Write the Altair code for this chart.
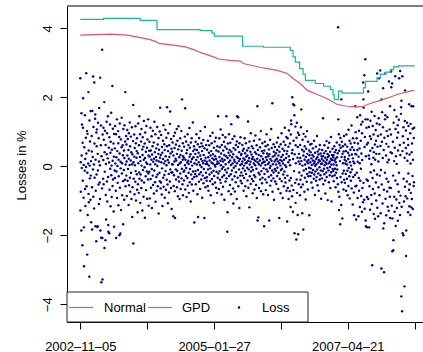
import altair as alt
import pandas as pd

# ---- daily losses in % (roughly 50 trading days per row) ----
losses = [
    2.55, -1.28, 0.12, -0.74, -1.86, 1.54, 0.31, -0.05, 1.21, -2.29, 0.68, -0.42, 1.12, 1.97, -0.91, 0.04, -1.77, -2.9, 0.55, -0.13, 1.48, -0.66, 0.21, -1.15, 0.83, -0.02, 2.70, 0.37, -0.58, 1.02, -2.56, -0.19, 0.94, -1.41, 0.08, 2.15, -0.8, 0.46, -1.04, -3.2, 1.33, 0.02, -0.35, 0.72, -0.97, 1.6, -0.27, 0.15, -1.62, 0.88,
    0.43, -0.61, -1.83, 1.6, 0.27, -0.09, 2.60, -0.88, 1.14, 0.05, -1.22, 2.43, 0.66, -0.33, 1.38, 1.5, -1.74, 0.19, -0.71, -2.17, 0.98, -0.24, 0.58, 1.07, -1.76, -1.74, 0.36, -0.12, 1.26, -0.53, 0.81, -1.09, 0.14, 1.69, -0.47, 0.03, -0.95, 2.57, -1.86, 0.61, 1.18, -2.07, -3.36, 0.29, -0.64, 3.38, -2.08, -3.28, 0.92, -0.36,
    0.18, 1.12, -0.52, 0.77, 1.86, -2.37, 0.41, -0.16, 1.03, -2.14, 0.62, -0.83, 0.07, -1.54, 1.29, 0.35, -0.44, 0.96, -1.02, 0.23, 1.45, -0.31, -1.7, -1.9, 0.54, 0.11, -1.94, 0.84, -0.68, 1.21, -0.07, 0.39, -1.16, 0.71, 1.55, -0.26, 0.02, -0.89, 0.48, 2.33, -0.57, 0.16, 1.09, -0.38, 0.66, -1.31, 0.28, 0.94, -1.75, -0.12,
    0.52, -0.34, 1.17, 0.08, -0.71, 0.93, -2.08, 0.26, -0.15, 1.36, -0.92, 0.44, 0.01, -0.48, 1.02, 0.67, -1.13, 0.19, -0.29, 0.85, -2.0, 0.37, 1.24, -0.62, -1.95, 0.13, -0.06, 0.78, -1.27, 0.55, 1.41, -0.21, 0.09, -0.84, 0.61, 0.32, -0.43, -1.68, 1.08, -0.11, 0.46, -0.97, 0.24, 1.19, -0.39, 0.72, 2.15, -0.58, 0.05, 0.88,
    -0.27, 0.63, 0.14, -0.86, 1.05, 0.31, -0.42, 0.79, -0.08, 0.47, -1.12, 0.22, 0.96, -0.55, 0.04, 1.27, -0.33, 0.58, -0.74, 0.17, 0.86, -0.19, 0.41, -0.95, 1.13, 0.06, -1.47, 0.35, -0.61, 0.73, 1.78, -2.24, 0.12, -0.36, 0.92, 0.28, -0.81, 0.53, 0.03, -0.45, 1.16, -0.14, 0.67, -0.99, 0.25, 0.44, -0.23, 0.81, -0.68, -1.33,
    0.38, -0.52, 1.24, 0.09, -0.77, 0.61, -0.18, 1.45, -0.36, 0.27, 0.93, -1.06, 0.15, -0.24, 0.72, -0.63, 1.08, 0.02, -0.41, 0.49, -1.28, 0.33, 0.84, -0.11, 0.57, -0.88, 0.19, 1.31, -0.47, -0.03, 0.66, -1.49, 0.24, 0.98, -0.29, 0.42, -0.69, 0.11, 1.17, -0.15, 0.54, -0.94, 0.07, 0.78, -0.38, 1.36, -0.21, 0.31, -1.14, 0.45,
    -0.16, 0.71, 0.28, -0.93, 0.05, 1.12, -0.37, 0.46, -0.62, 0.19, 0.87, -0.08, -1.21, 0.34, 0.58, -0.27, 1.03, -0.54, 0.13, 0.69, -0.79, 0.22, -0.12, 1.29, 0.41, -0.46, 0.06, 0.93, -1.03, 0.27, 0.52, -0.31, 0.17, -0.71, 1.14, 0.01, -0.24, 0.63, -0.58, 0.36, 0.82, -1.37, 0.14, 0.48, -0.19, 1.01, -0.43, 0.25, 1.70, -0.64,
    0.33, -0.47, 0.91, 0.12, -0.82, 0.56, -0.06, 0.39, -1.15, 0.74, 0.21, -0.33, 1.19, -0.59, 0.08, 0.64, -0.25, 0.47, -0.91, 0.15, 1.06, -0.14, 0.29, -0.68, 0.83, 0.03, -0.39, 0.58, 1.71, -0.53, 0.18, -1.07, 0.44, 0.96, -0.22, 0.11, -0.76, 0.61, 0.27, -0.44, 1.23, 1.59, -0.09, 0.37, -0.63, 0.79, -0.18, 0.51, -1.24, 0.06,
    0.42, -0.18, 0.69, 0.05, -1.45, 0.31, -0.57, 0.88, -0.26, 0.14, 0.53, -0.72, 0.97, -1.5, 0.22, -0.09, 0.63, -0.38, 0.17, 1.08, -0.61, 0.36, -0.13, 0.74, -0.87, 0.04, 0.49, -0.31, 1.16, -0.44, 0.26, 0.59, -0.95, 0.08, 0.81, -0.21, 0.33, -0.66, 0.12, 1.02, -0.35, 0.45, -0.07, 1.94, -0.52, 0.19, 0.67, -0.84, 0.29, -0.16,
    0.24, -0.41, 0.57, -0.12, 0.86, 0.03, 1.68, -0.67, 0.19, -0.28, 0.72, -0.05, 0.38, -0.89, 0.47, 0.11, -0.34, 0.93, -0.56, 0.16, 0.62, -0.19, 0.07, -0.77, 1.11, 0.28, -0.46, 0.54, -0.08, 0.35, -1.02, 0.69, 0.13, -0.24, 0.81, -0.53, 0.21, 0.02, -0.37, 1.27, -0.15, 0.44, -0.71, 0.26, 0.58, -0.31, -1.63, 0.09, 0.49, -0.22,
    0.36, -0.14, 0.71, -0.52, 0.18, 0.93, -0.29, 0.05, 0.47, -0.81, 0.27, 0.64, -0.11, -1.47, 0.39, 0.12, -0.45, 0.82, -0.23, 0.56, 0.04, -0.66, 0.31, 1.02, -0.17, 0.21, -0.38, 0.67, -0.02, 0.44, -0.91, 0.15, 0.58, -0.27, 0.09, 0.76, -0.49, 0.33, -0.08, -1.5, 0.52, 0.17, -0.34, 1.14, -0.61, 0.25, 0.07, -0.19, 0.62, -0.42,
    0.13, -0.32, 0.48, 0.06, -0.57, 0.74, -0.09, 0.26, -0.71, 0.39, 0.02, 0.61, -0.24, 0.17, -0.43, 0.88, -0.06, 0.31, -0.84, 0.44, 0.11, -0.18, 0.67, -0.37, 0.23, 0.97, -0.52, 0.08, 0.35, -0.13, -1.06, 0.54, 0.19, -0.28, 0.72, 0.04, -0.47, 0.29, -0.01, 0.83, -0.62, 0.21, 0.46, -0.16, 0.07, -0.77, 0.58, 0.14, -0.33, 1.45,
    -0.21, 0.43, 0.09, -0.66, 0.81, 0.27, -0.14, 0.55, -0.39, 0.16, 1.07, -0.48, 0.03, 0.37, -0.82, 0.62, -0.07, 0.22, -0.31, 0.91, 0.14, -0.59, 0.46, -0.02, 0.71, -0.26, 0.33, -0.97, 0.18, 0.57, -0.11, 0.84, -0.44, 0.06, 0.29, 1.45, -0.35, 0.51, -0.18, -1.9, -1.33, 0.24, 0.66, -0.06, 0.39, -0.72, 0.12, 0.93, -0.28, 0.47,
    0.31, -0.54, 0.17, 0.68, -0.23, 0.04, -0.81, 1.22, 0.42, -0.12, 0.26, -0.38, 0.79, 0.08, -0.64, 0.35, -1.08, 0.53, -0.04, 0.19, 0.87, -0.29, 0.13, -0.73, 0.48, 0.01, -0.46, 0.62, -0.17, 0.28, -0.95, 0.72, 0.09, 1.45, -0.33, 0.24, 0.56, 1.42, -0.58, 0.15, -0.09, 0.41, -1.21, 0.67, 0.21, -0.27, 0.04, 0.84, -0.42, 0.33,
    -0.18, 0.36, 0.07, -0.49, 0.62, 0.14, -0.27, 0.45, -0.06, 0.23, -0.71, 0.51, 0.02, -0.34, 0.81, 0.19, -0.13, 0.38, -0.58, 0.09, 0.67, -0.22, 0.28, -0.87, 0.11, 0.46, -0.04, 0.31, -0.41, 1.30, 0.16, -0.62, 0.53, -0.09, 0.24, -1.19, 0.72, 0.05, -0.29, 0.42, 0.13, -0.51, 0.96, -0.15, 0.34, -0.03, 0.58, -0.37, 0.21, -0.78,
    0.27, -0.11, 0.52, -0.43, 0.08, 0.74, -0.26, 0.19, -0.67, 0.41, 0.03, -0.31, 0.89, 0.15, -0.54, 0.36, -0.07, 0.61, -0.92, 0.22, 1.74, -1.57, 0.12, 0.47, -1.48, -0.19, 0.33, 0.06, -0.63, 0.78, -0.24, 0.17, 0.55, -0.38, 0.02, 1.02, -0.72, 0.29, -0.14, 0.44, -0.49, 0.09, 0.67, -0.33, 0.21, -0.81, 0.38, 0.13, -0.06, -1.74,
    0.46, -0.22, 0.13, 0.71, -0.38, 0.04, 0.58, -0.69, 0.26, -0.09, 0.93, -0.47, 0.18, 0.37, -0.15, 0.62, -0.83, 0.07, 0.29, -0.31, 0.49, 0.11, -1.57, 0.35, -0.05, 0.77, -0.56, 0.21, 0.01, -0.26, 1.08, -0.42, 0.16, 0.53, -0.12, 1.83, -0.74, 0.28, 0.06, -0.35, 0.64, -0.18, 0.42, -0.97, 0.14, 0.31, -0.08, 0.56, -0.44, 0.19,
    -0.13, 0.38, 0.05, -0.51, 0.69, 0.22, -0.28, 0.47, -0.04, 0.14, 0.83, -0.66, 0.31, -0.19, 0.57, -1.5, 0.09, 0.42, -0.36, 0.18, 0.02, -0.78, 0.64, -0.11, 0.27, 0.96, -0.43, 0.15, -0.07, 0.51, -0.92, 0.33, 0.08, -0.24, 0.71, -0.58, 0.19, 0.45, -0.15, 1.12, -0.34, 0.03, 0.62, -0.47, 0.24, -0.02, 0.85, -0.71, 0.36, -1.6,
    0.44, -0.27, 0.81, -0.63, 0.12, 0.57, -0.95, 0.29, 1.04, -0.41, 0.18, -0.72, 0.66, 0.03, -1.18, 0.92, -0.34, 1.33, 1.22, -0.56, 0.38, -0.87, 2.0, 0.47, -1.32, 0.21, 1.8, -0.69, 0.74, -0.14, 1.77, 1.48, -1.94, 0.35, -0.48, 1.15, -1.06, 0.61, 0.09, -2.12, 0.83, -0.38, 1.26, -0.77, 0.25, -1.41, 0.56, 0.97, -1.97, 0.14,
    -0.52, 0.36, 0.91, -0.18, 0.07, -0.84, 0.62, 0.24, -0.39, 1.13, -0.61, 1.65, 0.15, -0.27, 0.48, -1.36, 0.02, 0.77, -0.53, -1.83, 0.31, 0.94, -0.12, 0.43, -0.74, 0.19, 0.58, -0.33, 0.05, 0.86, -0.96, 0.27, -0.08, 0.51, -0.45, 0.14, 1.02, -0.22, 0.36, -0.67, 0.09, 0.71, -0.29, 0.18, -0.04, 0.46, -1.42, 0.32, -0.17, 0.63,
    0.12, -0.28, 0.41, -0.06, 0.23, -0.47, 0.65, 0.04, -0.19, 0.33, -0.62, 0.17, 0.52, -0.11, 0.28, -0.36, 0.08, 0.74, -0.24, 0.14, -0.83, 0.39, 0.01, -0.15, 0.57, -0.42, 0.21, 0.06, -0.31, 0.88, -0.09, 0.26, -0.55, 0.43, 0.11, -0.21, 0.34, -0.71, 0.18, 0.49, -0.03, -0.38, 0.62, 0.15, -0.26, 0.37, -0.12, 0.07, -0.94, 0.29,
    0.21, -0.35, 0.08, 0.47, -0.14, 0.29, 1.39, -0.52, 0.16, -0.07, 0.38, -0.23, 0.61, 0.03, -0.41, 0.25, -0.79, 0.12, 0.44, -0.18, 0.07, 0.73, -0.31, 0.19, -0.05, 0.36, -0.98, 0.27, 0.54, -0.12, 0.09, -0.46, 0.31, 0.68, -0.26, 0.14, -0.02, 0.42, -0.63, 0.22, 0.85, -0.17, 0.05, -1.02, 0.33, 0.18, -0.29, 0.51, -0.08, 0.26,
    -0.14, 0.32, 0.05, -0.43, 0.58, 0.17, -0.26, 0.41, -0.07, 0.22, -0.61, 0.12, 0.47, -0.19, 0.03, 0.69, -0.34, 0.26, -0.09, 0.38, -0.52, 4.03, 1.36, -0.74, 0.93, -1.27, 0.45, -0.88, 0.62, 0.15, -1.68, 0.82, -0.31, 0.54, -1.12, 1.94, 0.27, -0.46, 0.71, -1.51, 0.36, -0.21, 0.58, 0.09, -0.67, 0.43, -0.13, 0.88, -0.39, 0.19,
    0.27, -0.48, 0.63, 0.08, -0.22, 0.44, -0.71, 0.15, 0.92, -0.36, 0.05, 0.57, -0.13, -0.84, 0.39, 0.21, -0.57, 1.06, -0.05, 0.31, -0.29, 0.74, -0.93, 0.12, 0.48, -0.17, 0.66, -0.42, 0.02, 1.18, -0.64, 0.34, -0.09, 0.55, -1.11, 0.23, 0.81, -0.31, 0.14, -0.76, 0.47, -1.42, 0.09, 0.68, -0.25, 1.74, 0.36, -0.58, 0.99, -1.54,
    0.34, -0.56, 0.81, -0.19, 1.42, 0.47, -0.92, 0.13, 0.66, -1.45, 0.28, -0.34, 1.03, -0.71, 0.52, 0.09, -1.18, 1.48, -0.42, 0.74, -0.07, 1.21, -0.86, 0.37, -1.32, 0.96, 0.18, -0.63, 1.29, -1.04, 2.43, 1.94, -0.48, 1.7, -0.97, 2.64, 0.56, -1.23, 0.85, 3.10, 1.36, -1.57, 0.29, -1.74, 1.12, -0.38, 0.63, -0.89, -1.77, 1.36,
    -0.42, 0.68, 2.17, -0.95, 0.31, 1.14, -1.77, 0.22, -0.58, 0.87, -1.26, 0.45, 1.32, -0.17, 0.79, -0.83, 0.06, 1.58, -1.09, -2.87, 0.53, -0.34, 1.17, -0.66, 0.25, 0.92, -1.38, 0.41, -0.12, 1.46, -0.79, 0.63, -1.52, 0.19, 1.05, -0.47, 0.74, -0.99, 0.36, 1.24, -0.24, 2.69, -1.2, 0.57, 0.88, -1.45, 0.14, -0.61, 1.39, 2.55,
    0.36, -0.84, 1.21, -0.27, 2.78, 0.59, -1.36, 0.92, -0.11, -2.96, 1.94, -0.53, 0.71, 1.57, -1.08, 0.24, 1.13, 2.26, -1.8, 0.47, -0.68, -3.07, -1.65, 0.83, -0.19, 1.36, 2.69, 1.48, -0.94, 0.31, -1.42, 0.65, -0.36, 1.02, -0.73, 1.42, 0.12, -1.17, 0.88, -0.45, 0.57, -1.29, 0.19, 2.46, -0.62, 1.07, -0.88, 1.74, -1.5, 0.41,
    -0.63, 0.92, 2.75, 2.29, -1.14, 0.38, 2.4, -2.46, -1.51, 0.71, -0.27, -2.43, -2.14, 1.26, 0.15, -0.88, 1.63, -1.32, 0.54, 2.61, -0.41, 1.08, -1.73, 0.29, -0.96, 1.44, 0.07, -1.21, 0.83, -0.52, 1.19, -1.58, 0.46, 0.98, -0.74, 1.35, -0.19, 2.55, -1.06, 0.62, -1.41, 2.76, 0.33, -0.85, 1.52, 1.71, -3.77, 1.9, -1.17, -4.2,
    2.61, 0.44, -1.94, 0.87, -2.0, 1.13, -0.36, 0.68, -1.02, -3.48, 0.25, 1.31, -0.59, 2.2, -0.87, 0.53, 1.04, -2.6, -1.86, 0.37, -0.44, 1.26, -0.93, 0.16, 0.79, -1.33, 0.62, -0.21, 1.17, -0.68, 1.8, -1.16, 0.34, -0.52, 0.96, -1.41, 0.08, 1.23, -0.77, -1.19, 1.74, 0.41, -0.95, 0.66, -0.28, 1.09, -1.24, 0.19, 1.74, -0.57,
    0.82, -0.46, 1.12,
]
first_day = "2002-11-05"

# ---- Normal VaR estimate ----
normal_dates = ["2002-11-05", "2003-05-07", "2003-08-16", "2003-11-05", "2004-01-05", "2004-02-15",
                "2004-02-25", "2004-05-26", "2004-08-05", "2004-09-25", "2004-11-04", "2005-01-24",
                "2005-02-24", "2005-05-06", "2005-07-06", "2005-07-24", "2005-11-23", "2006-02-16",
                "2006-04-18", "2006-05-25", "2006-07-06", "2006-08-18", "2006-10-18", "2006-12-18",
                "2007-02-16", "2007-04-18", "2007-06-18", "2007-07-25", "2007-09-05", "2007-11-05",
                "2008-01-05", "2008-03-06", "2008-05-06", "2008-05-30"]
normal_var = [3.80, 3.83, 3.80, 3.73, 3.67, 3.60, 3.56, 3.51, 3.46, 3.38, 3.30, 3.17,
              3.11, 3.07, 3.05, 2.98, 2.85, 2.78, 2.69, 2.54, 2.40, 2.20, 2.08, 1.96,
              1.79, 1.74, 1.72, 1.74, 1.82, 1.91, 2.01, 2.11, 2.18, 2.20]

# ---- GPD VaR estimate (step function) ----
gpd_dates = ["2002-11-05", "2003-03-27", "2003-11-05", "2004-02-15", "2004-11-04", "2005-01-15",
             "2005-01-29", "2005-07-20", "2005-11-23", "2006-05-06", "2006-05-23", "2006-06-06",
             "2006-07-02", "2006-07-23", "2006-08-06", "2006-10-05", "2006-11-25", "2007-01-05",
             "2007-01-21", "2007-01-29", "2007-02-24", "2007-03-17", "2007-07-26", "2007-08-06",
             "2007-10-16", "2007-11-05", "2007-12-06", "2008-01-05", "2008-01-25", "2008-02-25",
             "2008-06-01"]
gpd_var = [4.26, 4.29, 4.23, 3.96, 3.93, 3.86, 3.77, 3.48, 3.45, 3.36, 3.17, 3.02,
           2.83, 2.67, 2.49, 2.40, 2.32, 2.22, 2.08, 1.93, 2.18, 2.12, 2.28, 2.46,
           2.57, 2.67, 2.73, 2.80, 2.88, 2.91, 2.91]

tick_dates = ["2002-11-05", "2003-12-17", "2005-01-27", "2006-03-10", "2007-04-21", "2008-06-01"]
shown_tick_labels = ["2002-11-05", "2005-01-27", "2007-04-21"]
y_ticks = [-4, -2, 0, 2, 4]
legend_labels = ["Normal", "GPD", "Loss"]

RED = "#E0536B"
GREEN = "#1DB594"
BLUE = "#00008B"
FONT = "Liberation Sans"
W, H = 356, 316


def dt(s):
    y, m, d = (int(p) for p in s.split("-"))
    return alt.DateTime(year=y, month=m, date=d, utc=True)


loss_df = pd.DataFrame({
    "date": pd.bdate_range(first_day, periods=len(losses)).strftime("%Y-%m-%d"),
    "loss": losses,
})
normal_df = pd.DataFrame({"date": normal_dates, "var": normal_var})
gpd_df = pd.DataFrame({"date": gpd_dates, "var": gpd_var})

xscale = alt.Scale(type="utc", domain=[dt("2002-08-16"), dt("2008-07-22")])
yscale = alt.Scale(domain=[-4.513, 4.646], nice=False, zero=False)

shown = ",".join("'" + s + "'" for s in shown_tick_labels)
xaxis = alt.Axis(
    values=[dt(s) for s in tick_dates],
    labelExpr=f"indexof([{shown}], utcFormat(datum.value, '%Y-%m-%d')) >= 0 ? utcFormat(datum.value, '%Y\u2013%m\u2013%d') : ''",
    title=None, grid=False, tickSize=7, labelPadding=21, labelBaseline="alphabetic",
    labelAlign="center", labelOverlap=False, labelFlush=False,
)
yaxis = alt.Axis(
    values=y_ticks, title="Losses in %", grid=False, tickSize=7,
    labelAngle=270, labelAlign="center", labelBaseline="alphabetic", labelPadding=9,
    titleAngle=270, titleAlign="center", titleBaseline="alphabetic", titleX=-42, titleY=159,
)

points = alt.Chart(loss_df).mark_circle(size=6, color=BLUE, opacity=1).encode(
    x=alt.X("date:T", scale=xscale, axis=xaxis),
    y=alt.Y("loss:Q", scale=yscale, axis=yaxis),
)
normal_line = alt.Chart(normal_df).mark_line(color=RED, strokeWidth=1.2).encode(
    x=alt.X("date:T", scale=xscale), y=alt.Y("var:Q", scale=yscale)
)
gpd_line = alt.Chart(gpd_df).mark_line(color=GREEN, strokeWidth=1.2, interpolate="step-after").encode(
    x=alt.X("date:T", scale=xscale), y=alt.Y("var:Q", scale=yscale)
)

one = alt.Data(values=[{"k": 1}])
top_border = alt.Chart(one).mark_rule(color="black", strokeWidth=1).encode(
    x=alt.value(0), x2=alt.value(W), y=alt.value(0)
)
leg_box = alt.Chart(one).mark_rect(fill="white", stroke="#222", strokeWidth=1).encode(
    x=alt.value(0), x2=alt.value(241), y=alt.value(286), y2=alt.value(316)
)
leg_red = alt.Chart(one).mark_rule(color=RED, strokeWidth=1.2).encode(
    x=alt.value(2), x2=alt.value(26), y=alt.value(301.5)
)
leg_green = alt.Chart(one).mark_rule(color=GREEN, strokeWidth=1.2).encode(
    x=alt.value(81), x2=alt.value(105), y=alt.value(301.5)
)
leg_pt = alt.Chart(one).mark_circle(size=6, color=BLUE, opacity=1).encode(
    x=alt.value(172), y=alt.value(301.5)
)
text_style = dict(font=FONT, fontSize=13, color="black", align="left", baseline="alphabetic")
leg_t1 = alt.Chart(one).mark_text(text=legend_labels[0], **text_style).encode(x=alt.value(37), y=alt.value(306))
leg_t2 = alt.Chart(one).mark_text(text=legend_labels[1], **text_style).encode(x=alt.value(115), y=alt.value(306))
leg_t3 = alt.Chart(one).mark_text(text=legend_labels[2], **text_style).encode(x=alt.value(195), y=alt.value(306))

chart = alt.layer(
    points, normal_line, gpd_line, top_border, leg_box, leg_red, leg_green, leg_pt, leg_t1, leg_t2, leg_t3
).properties(
    width=W, height=H,
    autosize=alt.AutoSizeParams(type="none"),
    padding={"left": 67, "top": 6, "right": 0, "bottom": 30},
    background="white",
).configure_view(stroke=None).configure_axis(
    labelFont=FONT, labelFontSize=13, labelColor="black",
    titleFont=FONT, titleFontSize=13, titleFontWeight="normal", titleColor="black",
    domainColor="black", tickColor="black", domainWidth=1, tickWidth=1,
)

chart.save("out.html", embed_options={"renderer": "svg", "actions": False})
